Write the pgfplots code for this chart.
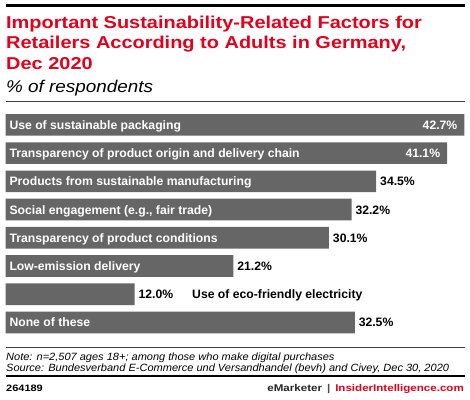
\documentclass[border=0pt]{standalone}
\usepackage{fontspec}
\setmainfont{Liberation Sans}
\newfontfamily\titlefont[FakeStretch=1.16]{Liberation Sans}
\newfontfamily\subfont[FakeStretch=1.11]{Liberation Sans}
\newfontfamily\notefont[FakeStretch=1.05]{Liberation Sans}
\newfontfamily\footfont[FakeStretch=1.18]{Liberation Sans}
\usepackage{pgfplots}
\pgfplotsset{compat=1.18}
\definecolor{barc}{HTML}{666666}
\definecolor{emred}{HTML}{E2001A}
\newcommand{\lblfont}{\fontsize{12.2}{14}\selectfont\bfseries}
\begin{document}
\begin{tikzpicture}[x=1pt,y=1pt]
\useasboundingbox (0,0) rectangle (470,399);
\draw[line width=3pt] (6,393) -- (465,393);
\begin{scope}[every node/.style={anchor=base west, inner sep=0, text=emred, font=\titlefont\fontsize{17.2}{19}\selectfont\bfseries}]
\node at (6,370.7) {Important Sustainability-Related Factors for};
\node at (6,350.7) {Retailers According to Adults in Germany,};
\node at (6,329.2) {Dec 2020};
\end{scope}
\node[anchor=base west, inner sep=0, font=\subfont\fontsize{17}{19}\selectfont\itshape] at (6,306.7) {\% of respondents};
\draw[line width=0.8pt, black!75] (6,298) -- (465,298);
\begin{axis}[at={(5.7pt,62.4pt)}, anchor=south west, scale only axis,
  width=458.6pt, height=225.9pt, xmin=0, xmax=42.7, ymin=-0.5, ymax=7.5,
  y dir=reverse, hide axis, xbar, bar width=21.6pt, bar shift=0pt,
  clip=false, point meta=x,
  nodes near coords={\pgfmathprintnumber[fixed,fixed zerofill,precision=1]{\pgfplotspointmeta}\%},
  /pgf/number format/assume math mode=true]
\addplot[fill=barc, draw=none,
  every node near coord/.append style={anchor=base east, inner sep=0, xshift=-6.8pt, yshift=-4.5pt, text=white, font=\lblfont}]
  coordinates {(42.7,0) (41.1,1)};
\addplot[fill=barc, draw=none,
  every node near coord/.append style={anchor=base west, inner sep=0, xshift=3.8pt, yshift=-4.5pt, text=black, font=\lblfont}]
  coordinates {(34.5,2) (32.2,3) (30.1,4) (21.2,5) (12.0,6) (32.5,7)};
\begin{scope}[every node/.style={anchor=base west, inner sep=0, yshift=-4.5pt, xshift=3.6pt, text=white, font=\lblfont}]
\node at (axis cs:0,0) {Use of sustainable packaging};
\node at (axis cs:0,1) {Transparency of product origin and delivery chain};
\node at (axis cs:0,2) {Products from sustainable manufacturing};
\node at (axis cs:0,3) {Social engagement (e.g., fair trade)};
\node at (axis cs:0,4) {Transparency of product conditions};
\node at (axis cs:0,5) {Low-emission delivery};
\node at (axis cs:0,7) {None of these};
\end{scope}
\node[anchor=base west, inner sep=0, yshift=-4.5pt, text=black, font=\lblfont] at (axis cs:17.35,6) {Use of eco-friendly electricity};
\end{axis}
\draw[line width=0.8pt, black!75] (6,52) -- (465,52);
\begin{scope}[every node/.style={anchor=base west, inner sep=0, font=\notefont\fontsize{10.5}{12}\selectfont\itshape}]
\node at (6,39) {Note: n=2,507 ages 18+; among those who make digital purchases};
\node at (6,28) {Source: Bundesverband E-Commerce und Versandhandel (bevh) and Civey, Dec 30, 2020};
\end{scope}
\draw[line width=2.5pt] (6,23) -- (465,23);
\node[anchor=base west, inner sep=0, font=\footfont\fontsize{9.3}{11}\selectfont\bfseries] at (6,7.3) {264189};
\node[anchor=base east, inner sep=0, font=\footfont\fontsize{9.8}{11}\selectfont\bfseries] at (464,7.3) {\textcolor{black!85}{eMarketer}\hspace{5pt}\textcolor{black!70}{|}\hspace{5pt}\textcolor{emred}{InsiderIntelligence.com}};
\end{tikzpicture}
\end{document}
